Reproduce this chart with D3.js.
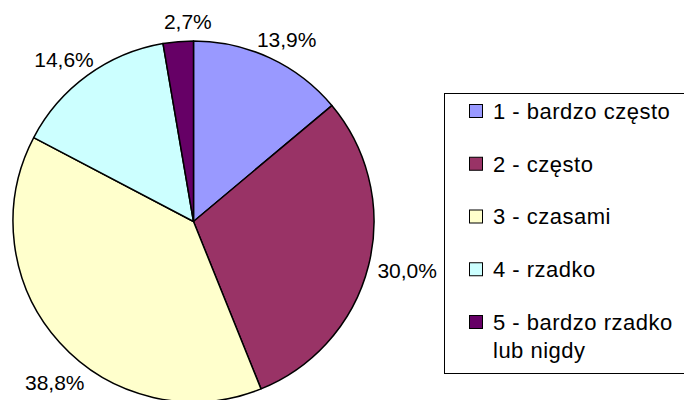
<!DOCTYPE html>
<html>
<head>
<meta charset="utf-8">
<script src="https://cdn.jsdelivr.net/npm/d3@7/dist/d3.min.js"></script>
<style>
  html, body { margin: 0; padding: 0; background: #fff; }
  svg { display: block; font-family: Arial, "Liberation Sans", sans-serif; }
</style>
</head>
<body>
<svg id="chart" width="684" height="400"></svg>
<script>
const categories = ["1 - bardzo często", "2 - często", "3 - czasami", "4 - rzadko", "5 - bardzo rzadko lub nigdy"];
const legendLines = [["1 - bardzo często"], ["2 - często"], ["3 - czasami"], ["4 - rzadko"], ["5 - bardzo rzadko", "lub nigdy"]];
const values = [13.9, 30.0, 38.8, 14.6, 2.7];
const labels = ["13,9%", "30,0%", "38,8%", "14,6%", "2,7%"];
const colors = ["#9999FF", "#993366", "#FFFFCC", "#CCFFFF", "#660066"];

const svg = d3.select("#chart");
const cx = 193.5, cy = 221.5, r = 180.5;

const pie = d3.pie().sort(null).value(d => d)(values);
const arc = d3.arc().innerRadius(0).outerRadius(r);

const g = svg.append("g").attr("transform", `translate(${cx},${cy})`);
g.selectAll("path").data(pie).join("path")
  .attr("d", arc)
  .attr("fill", (d, i) => colors[i])
  .attr("stroke", "#000")
  .attr("stroke-width", 1.5)
  .attr("stroke-linejoin", "round");

// labels placed just outside the slice edge, clamped to plot area
const fs = 21, gap = 10, minLeft = 25, boxH = 20;
pie.forEach((d, i) => {
  const t = svg.append("text")
    .attr("font-size", fs)
    .attr("text-anchor", "middle")
    .attr("fill", "#000")
    .text(labels[i]);
  const w = t.node().getComputedTextLength();
  const a = (d.startAngle + d.endAngle) / 2;
  const s = Math.sin(a), c = Math.cos(a);
  // near the top/bottom the label sits mostly centred over its anchor
  const hx = Math.abs(s) < 0.2 ? (r + gap) * s * 0.35 : (r + gap + w / 2) * s;
  let x = cx + hx;
  let y = cy - (r + gap + boxH / 2) * c;
  if (x - w / 2 < minLeft) {
    x = minLeft + w / 2;
    const nearX = s < 0 ? x + w / 2 : x - w / 2;
    const dx = nearX - cx;
    const R = r + 6;
    if (Math.abs(dx) < R) {
      const needDy = Math.sqrt(R * R - dx * dx);
      if (c < 0) {
        const top = y - boxH / 2;
        if (top - cy < needDy) y = cy + needDy + boxH / 2;
      } else {
        const bot = y + boxH / 2;
        if (cy - bot < needDy) y = cy - needDy - boxH / 2;
      }
    }
  }
  t.attr("x", x).attr("y", y).attr("dy", "0.36em");
});

// legend
const lg = svg.append("g");
lg.append("rect")
  .attr("x", 444.5).attr("y", 93.5)
  .attr("width", 260).attr("height", 280)
  .attr("fill", "#fff").attr("stroke", "#000").attr("stroke-width", 1);

const rowY = d3.scalePoint().domain(d3.range(categories.length)).range([111, 322]);
categories.forEach((cat, i) => {
  const y = rowY(i);
  lg.append("rect")
    .attr("x", 469.5).attr("y", y - 6.5)
    .attr("width", 13).attr("height", 13)
    .attr("fill", colors[i]).attr("stroke", "#000").attr("stroke-width", 1);
  legendLines[i].forEach((line, j) => {
    lg.append("text")
      .attr("x", 493).attr("y", y + j * 28)
      .attr("dy", "0.36em")
      .attr("font-size", 22)
      .attr("letter-spacing", "0.5px")
      .attr("fill", "#000")
      .text(line);
  });
});
</script>
</body>
</html>
